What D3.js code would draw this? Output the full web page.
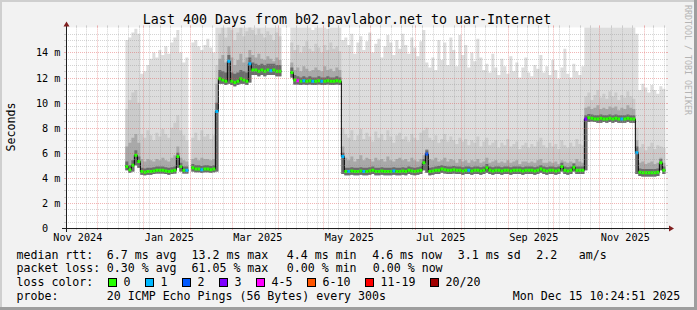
<!DOCTYPE html>
<html>
<head>
<meta charset="utf-8">
<script src="https://cdn.jsdelivr.net/npm/d3@7"></script>
<style>
  body { margin: 0; background: #fff; }
  svg { display: block; font-family: "DejaVu Sans Mono", monospace; }
  text { white-space: pre; }
</style>
</head>
<body>
<svg id="chart"></svg>
<script>
// ---- data ----
const chartTitle = "Last 400 Days from b02.pavlabor.net to uar-Internet";
const yTitle = "Seconds";
const rangeStart = new Date(2024, 10, 10, 10, 24, 51);
const rangeEnd = new Date(2025, 11, 15, 10, 24, 51);
const firstSample = new Date(2024, 11, 20);
const sampleDays = 2;
const yTicks = [0, 2, 4, 6, 8, 10, 12, 14];
const yMax = 16;

// median rtt (ms), one value per 2 days
const median = [
  4.9,4.65,5.0,5.8,5.3,4.5,4.45,4.5,4.5,4.55,
  4.6,4.6,4.6,4.55,4.5,4.55,4.6,5.7,4.9,4.6,
  4.6,null,4.8,4.7,4.7,4.65,4.7,4.7,4.65,4.7,
  9.3,11.9,11.8,11.7,13.3,11.7,11.6,11.7,11.9,11.8,
  11.7,13.1,12.6,12.6,12.5,12.6,12.5,12.6,12.55,12.6,
  12.5,12.5,null,null,null,12.4,11.8,11.75,11.7,11.75,
  11.7,11.75,11.7,11.7,11.75,11.7,11.7,11.75,11.7,11.7,
  11.75,11.7,5.7,4.5,4.5,4.55,4.5,4.5,4.55,4.5,
  4.5,4.55,4.6,4.5,4.5,4.55,4.5,4.5,4.5,4.55,
  4.5,4.5,4.55,4.5,4.6,4.55,4.5,4.55,4.6,5.2,
  5.9,4.5,4.55,4.6,4.6,4.7,4.65,4.6,4.6,4.65,
  4.6,4.6,4.55,4.6,4.6,4.55,4.6,4.6,4.55,4.6,
  4.8,4.6,4.55,4.6,4.6,4.55,4.6,4.6,4.55,4.6,
  4.6,4.6,4.55,4.6,4.6,4.6,4.55,4.6,4.7,4.6,
  4.55,4.6,4.6,4.55,4.6,4.9,4.6,4.55,4.6,4.85,
  4.6,4.6,4.6,8.7,8.8,8.75,8.7,8.7,8.75,8.7,
  8.7,8.75,8.7,8.75,8.7,8.7,8.7,8.75,8.7,8.7,
  6.0,4.45,4.4,4.4,4.4,4.4,4.4,4.45,5.2,4.6
];
// fastest ping (bottom of the smoke)
const pingMin = [
  4.6,4.4,4.5,5.0,4.8,4.25,4.2,4.25,4.25,4.3,
  4.35,4.35,4.35,4.3,4.25,4.3,4.35,4.8,4.5,4.35,
  4.35,null,4.5,4.45,4.45,4.4,4.45,4.45,4.4,4.45,
  4.5,11.5,11.5,11.4,11.5,11.4,11.3,11.4,11.5,11.5,
  11.4,11.6,12.2,12.2,12.1,12.2,12.1,12.2,12.2,12.2,
  12.1,12.1,null,null,null,12.0,11.45,11.45,11.4,11.45,
  11.4,11.45,11.4,11.4,11.45,11.4,11.4,11.45,11.4,11.4,
  11.45,11.4,4.3,4.2,4.2,4.25,4.2,4.2,4.25,4.2,
  4.2,4.25,4.3,4.2,4.2,4.25,4.2,4.2,4.2,4.25,
  4.2,4.2,4.25,4.2,4.3,4.25,4.2,4.25,4.3,4.6,
  4.4,4.2,4.25,4.3,4.3,4.4,4.35,4.3,4.3,4.35,
  4.3,4.3,4.25,4.3,4.3,4.25,4.3,4.3,4.25,4.3,
  4.4,4.3,4.25,4.3,4.3,4.25,4.3,4.3,4.25,4.3,
  4.3,4.3,4.25,4.3,4.3,4.3,4.25,4.3,4.4,4.3,
  4.25,4.3,4.3,4.25,4.3,4.5,4.3,4.25,4.3,4.5,
  4.3,4.3,4.3,4.6,8.45,8.5,8.45,8.4,8.4,8.45,
  8.4,8.45,8.4,8.45,8.4,8.4,8.4,8.45,8.4,8.4,
  4.3,4.15,4.1,4.1,4.1,4.1,4.1,4.15,4.6,4.3
];
// slowest ping (top of the smoke)
const pingMax = [
  15.0,15.2,15.6,15.9,15.5,12.3,12.5,13.0,13.5,14.0,
  13.6,14.2,13.8,14.5,13.9,14.8,15.2,15.8,14.0,13.2,
  13.6,null,14.8,15.0,14.5,14.2,14.6,15.1,14.4,14.0,
  16.5,16.5,16.5,16.5,16.5,16.5,16.5,16.5,16.5,16.5,
  16.5,16.5,16.5,16.5,16.5,16.5,16.5,16.5,16.5,16.5,
  16.5,16.5,null,null,null,16.5,16.5,16.5,16.5,16.5,
  16.5,16.5,15.8,16.5,16.5,16.5,16.5,15.9,16.5,16.5,
  16.5,16.5,15.0,15.2,14.6,15.5,13.9,14.8,15.3,14.2,
  14.9,15.6,14.0,14.7,15.1,13.6,14.5,15.4,14.8,13.8,
  15.0,14.3,15.5,14.6,13.9,15.2,14.4,13.7,14.9,15.8,
  13.2,12.8,13.6,12.6,15.0,13.4,14.8,13.0,15.2,14.2,
  12.9,15.4,13.8,14.6,12.8,14.0,13.3,15.1,13.6,12.6,
  13.1,12.4,13.9,12.8,12.2,13.5,12.9,12.3,13.7,12.5,
  13.2,12.0,12.8,13.6,12.4,12.1,13.0,12.7,13.8,12.4,
  12.9,12.2,13.4,12.6,11.9,12.8,14.3,12.3,12.0,13.1,
  12.5,12.2,12.9,16.5,16.5,16.5,16.5,16.5,16.5,16.5,
  16.5,16.5,16.5,16.5,16.5,16.5,16.5,16.5,16.5,16.5,
  15.5,11.0,11.5,11.2,10.8,11.4,11.0,10.7,11.3,11.1
];
// upper edges of the inner (darker) smoke bands
const smokeHigh = [
  9.5,10.2,10.8,11.0,10.0,7.5,7.2,7.8,7.4,7.0,
  7.6,7.3,7.9,7.5,7.2,8.0,8.4,9.0,7.8,7.4,
  7.0,null,7.2,7.6,7.0,7.8,7.3,7.5,7.1,7.4,
  13.0,15.5,16.0,15.2,16.2,15.8,15.0,15.6,16.0,15.3,
  15.7,16.2,15.8,15.4,15.9,15.5,15.2,15.7,15.4,15.0,
  15.6,15.3,null,null,null,14.8,14.2,14.6,14.0,14.5,
  14.9,14.3,14.1,14.7,14.4,14.0,14.6,14.2,14.8,14.3,
  14.5,14.1,8.0,7.5,7.2,7.8,7.0,7.4,7.9,7.1,
  7.6,7.3,6.9,7.7,7.2,7.5,7.0,7.8,7.3,6.8,
  7.4,7.6,7.1,7.3,6.9,7.5,7.2,7.0,7.6,7.8,
  8.0,7.2,7.0,7.4,6.8,7.1,7.5,6.9,7.3,7.0,
  6.7,7.2,6.9,7.1,6.6,7.0,6.8,7.3,6.5,6.9,
  7.2,6.6,6.8,7.0,6.4,6.8,6.6,7.1,6.5,6.7,
  6.9,6.3,6.6,6.8,6.4,6.7,6.5,6.9,7.2,6.6,
  6.4,6.8,6.5,6.7,6.3,7.0,6.6,6.4,6.8,6.5,
  7.1,6.7,6.6,10.5,10.8,10.2,10.6,11.0,10.4,10.7,
  10.3,10.9,10.5,10.8,10.2,10.6,10.4,10.9,10.5,10.3,
  8.0,6.4,6.7,6.2,6.5,6.8,6.3,6.6,6.5,6.4
];
const smokeMid = [
  6.5,6.8,7.2,7.5,6.8,5.5,5.3,5.5,5.4,5.3,
  5.5,5.4,5.6,5.4,5.3,5.6,5.8,6.5,5.6,5.4,
  5.3,null,5.5,5.6,5.4,5.6,5.5,5.5,5.4,5.5,
  11.5,13.5,13.8,13.2,14.5,13.6,13.0,13.4,13.9,13.2,
  13.6,14.2,13.8,13.6,13.9,13.5,13.4,13.7,13.5,13.3,
  13.6,13.4,null,null,null,13.2,12.6,12.8,12.5,12.9,
  12.7,12.5,12.6,12.8,12.6,12.5,12.9,12.6,12.7,12.5,
  12.8,12.6,6.5,5.6,5.4,5.7,5.3,5.5,5.8,5.4,
  5.6,5.5,5.3,5.6,5.4,5.5,5.3,5.7,5.4,5.3,
  5.5,5.6,5.4,5.5,5.3,5.6,5.4,5.3,5.5,5.8,
  6.3,5.5,5.4,5.6,5.3,5.4,5.6,5.3,5.5,5.4,
  5.2,5.5,5.3,5.4,5.2,5.4,5.3,5.5,5.2,5.3,
  5.6,5.2,5.3,5.4,5.2,5.3,5.2,5.4,5.2,5.3,
  5.4,5.1,5.3,5.3,5.2,5.3,5.2,5.4,5.5,5.2,
  5.2,5.3,5.2,5.3,5.1,5.4,5.3,5.2,5.3,5.2,
  5.5,5.3,5.2,9.6,9.7,9.5,9.6,9.8,9.5,9.6,
  9.5,9.7,9.6,9.7,9.4,9.6,9.5,9.8,9.6,9.5,
  7.0,5.2,5.3,5.1,5.2,5.3,5.1,5.2,5.6,5.2
];
const smokeLow = [
  5.3,5.0,5.4,6.2,5.7,4.8,4.75,4.8,4.8,4.85,
  4.9,4.9,4.9,4.85,4.8,4.85,4.9,6.0,5.2,4.9,
  4.9,null,5.1,5.0,5.0,4.95,5.0,5.0,4.95,5.0,
  10.0,12.6,12.5,12.4,13.8,12.4,12.3,12.4,12.6,12.5,
  12.4,13.6,13.2,13.1,13.0,13.1,13.0,13.1,13.1,13.1,
  13.0,13.0,null,null,null,12.8,12.2,12.1,12.0,12.1,
  12.0,12.1,12.0,12.0,12.1,12.0,12.0,12.1,12.0,12.0,
  12.1,12.0,6.0,4.8,4.8,4.85,4.8,4.8,4.85,4.8,
  4.8,4.85,4.9,4.8,4.8,4.85,4.8,4.8,4.8,4.85,
  4.8,4.8,4.85,4.8,4.9,4.85,4.8,4.85,4.9,5.5,
  6.2,4.8,4.85,4.9,4.95,5.0,4.95,4.9,4.9,4.95,
  4.9,4.9,4.85,4.9,4.9,4.85,4.9,4.9,4.85,4.9,
  5.1,4.9,4.85,4.9,4.9,4.85,4.9,4.9,4.85,4.9,
  4.9,4.9,4.85,4.9,4.9,4.9,4.85,4.9,5.0,4.9,
  4.85,4.9,4.9,4.85,4.9,5.2,4.9,4.85,4.9,5.15,
  4.9,4.9,4.9,9.0,9.1,9.05,9.0,9.0,9.05,9.0,
  9.0,9.05,9.0,9.05,9.0,9.0,9.0,9.05,9.0,9.0,
  6.5,4.75,4.7,4.7,4.7,4.7,4.7,4.75,5.5,4.9
];
// [sample index, lost pings out of 20]
const lossEvents = [[20,1],[25,1],[30,1],[34,1],[41,1],[48,1],[57,4],[59,1],[62,1],[65,1],
  [72,1],[74,1],[79,1],[89,1],[100,2],[114,1],[153,3],[165,1],[170,1]];

const lossLabels = ["0", "1", "2", "3", "4-5", "6-10", "11-19", "20/20"];
const lossColors = ["#26ff00", "#00b8ff", "#0059ff", "#7e00ff", "#ff00ff", "#ff5500", "#ff0000", "#a10000"];
const lossUpper = [0, 1, 2, 3, 5, 10, 19, 20];
const rttStats = ["6.7 ms avg", "13.2 ms max", "4.4 ms min", "4.6 ms now", "3.1 ms sd", "2.2", "am/s"];
const lossStats = ["0.30 % avg", "61.05 % max", "0.00 % min", "0.00 % now"];
const probeText = "20 ICMP Echo Pings (56 Bytes) every 300s";
const stampText = "Mon Dec 15 10:24:51 2025";

// ---- layout ----
const W = 697, H = 310;
const plot = { left: 66, right: 666, top: 27.4, bottom: 228 };
const fontAxis = 10.2, fontLegend = 11.6, fontTitle = 13.3;

const svg = d3.select("#chart").attr("width", W).attr("height", H);

svg.append("rect").attr("width", W).attr("height", H).attr("fill", "#f2f2f2");
svg.append("rect").attr("width", W).attr("height", 2).attr("fill", "#cfcfcf");
svg.append("rect").attr("width", 2).attr("height", H).attr("fill", "#cfcfcf");
svg.append("rect").attr("y", H - 3).attr("width", W).attr("height", 3).attr("fill", "#9e9e9e");
svg.append("rect").attr("x", W - 3).attr("width", 3).attr("height", H).attr("fill", "#9e9e9e");

const x = d3.scaleTime().domain([rangeStart, rangeEnd]).range([plot.left, plot.right]);
const y = d3.scaleLinear().domain([0, yMax]).range([plot.bottom, plot.top]);

svg.append("rect")
  .attr("x", plot.left).attr("y", plot.top)
  .attr("width", plot.right - plot.left).attr("height", plot.bottom - plot.top)
  .attr("fill", "#ffffff");

svg.append("clipPath").attr("id", "clip")
  .append("rect")
  .attr("x", plot.left).attr("y", plot.top)
  .attr("width", plot.right - plot.left).attr("height", plot.bottom - plot.top);

// samples cover [t0, t1); each becomes two points so the shapes step like rrd columns
const lossAt = new Map(lossEvents);
const samples = median.map((m, i) => ({
  t0: d3.timeDay.offset(firstSample, i * sampleDays),
  t1: d3.timeDay.offset(firstSample, (i + 1) * sampleDays),
  median: m,
  min: pingMin[i], max: pingMax[i],
  high: smokeHigh[i], mid: smokeMid[i], low: smokeLow[i],
  loss: lossAt.get(i) || 0
}));
const stepPts = samples.flatMap(s => [{ ...s, t: s.t0 }, { ...s, t: s.t1 }]);

const plotG = svg.append("g").attr("clip-path", "url(#clip)");

const bands = [["max", "#dddddd"], ["high", "#cbcbcb"], ["mid", "#a9a9a9"], ["low", "#6c6c6c"]];
bands.forEach(([key, color]) => {
  const area = d3.area()
    .defined(d => d[key] != null)
    .x(d => x(d.t))
    .y0(d => y(d.min))
    .y1(d => y(d[key]));
  plotG.append("path").attr("d", area(stepPts)).attr("fill", color);
});

// ---- grid ----
const gridG = svg.append("g");
const minorColor = "rgba(143,143,143,0.38)", majorColor = "rgba(222,79,79,0.42)";

const minorY = d3.range(0.5, yMax, 0.5).filter(v => v % 2 !== 0);
const addHLines = (vals, color) => {
  gridG.selectAll(null).data(vals).join("line")
    .attr("x1", plot.left).attr("x2", plot.right)
    .attr("y1", d => Math.round(y(d)) + 0.5).attr("y2", d => Math.round(y(d)) + 0.5)
    .attr("stroke", color).attr("stroke-dasharray", "1,1");
  gridG.selectAll(null).data(vals).join("path")
    .attr("d", d => {
      const yy = Math.round(y(d)) + 0.5;
      return `M${plot.left - 2},${yy}H${plot.left}M${plot.right},${yy}H${plot.right + 2}`;
    })
    .attr("stroke", color);
};
addHLines(minorY, minorColor);
addHLines(yTicks.filter(v => v > 0), majorColor);

const monthStarts = d3.timeMonth.range(rangeStart, rangeEnd);
const weekStarts = d3.timeSunday.range(rangeStart, rangeEnd)
  .filter(d => !monthStarts.some(m => Math.abs(x(m) - x(d)) < 2));
const addVLines = (vals, color) => {
  gridG.selectAll(null).data(vals).join("line")
    .attr("x1", d => Math.round(x(d)) + 0.5).attr("x2", d => Math.round(x(d)) + 0.5)
    .attr("y1", plot.top).attr("y2", plot.bottom)
    .attr("stroke", color).attr("stroke-dasharray", "1,1");
  gridG.selectAll(null).data(vals).join("path")
    .attr("d", d => {
      const xx = Math.round(x(d)) + 0.5;
      return `M${xx},${plot.bottom}V${plot.bottom + 2}M${xx},${plot.top - 2}V${plot.top}`;
    })
    .attr("stroke", color);
};
addVLines(weekStarts, minorColor);
addVLines(monthStarts, majorColor);

// ---- median line ----
const medLine = d3.line()
  .defined(d => d.median != null)
  .x(d => x(d.t))
  .y(d => y(d.median));
plotG.append("path").attr("d", medLine(stepPts))
  .attr("fill", "none").attr("stroke", "#000").attr("stroke-width", 1);

const bucket = n => lossUpper.findIndex(u => n <= u);
plotG.selectAll("line.med").data(samples.filter(s => s.median != null)).join("line")
  .attr("class", "med")
  .attr("x1", d => x(d.t0)).attr("x2", d => x(d.t1))
  .attr("y1", d => y(d.median)).attr("y2", d => y(d.median))
  .attr("stroke", d => lossColors[bucket(d.loss)])
  .attr("stroke-width", 3);

// ---- axes ----
const axisColor = "#1f1f1f", arrowColor = "#801f1f";
const x0 = plot.left + 0.5, y0 = plot.bottom + 0.5;
svg.append("path").attr("d", `M${plot.left - 4},${y0}H${plot.right + 4}`).attr("stroke", axisColor);
svg.append("path").attr("d", `M${x0},${plot.bottom + 4}V${plot.top - 4}`).attr("stroke", axisColor);
svg.append("path")
  .attr("d", `M${plot.right + 3},${y0 - 3}L${plot.right + 8},${y0}L${plot.right + 3},${y0 + 3}Z`)
  .attr("fill", arrowColor);
svg.append("path")
  .attr("d", `M${x0 - 3},${plot.top - 1}L${x0},${plot.top - 6}L${x0 + 3},${plot.top - 1}Z`)
  .attr("fill", arrowColor);

// x labels sit half a month after the month they name
const fmtMonth = d3.timeFormat("%b %Y");
const labelMonths = d3.timeMonth.every(2).range(d3.timeMonth.floor(rangeStart), rangeEnd);
const xAxis = d3.axisBottom(x)
  .tickValues(labelMonths.map(m => d3.timeDay.offset(m, 17)))
  .tickFormat(d => fmtMonth(d3.timeMonth.floor(d)))
  .tickSize(0).tickPadding(0);
const gx = svg.append("g").attr("transform", "translate(0,240.8)").call(xAxis);
gx.select(".domain").remove();
gx.selectAll("text").attr("y", 0).attr("dy", 0)
  .attr("font-family", "DejaVu Sans Mono").attr("font-size", fontAxis).attr("fill", "#000");

const yAxis = d3.axisLeft(y)
  .tickValues(yTicks)
  .tickFormat(v => v === 0 ? "0  " : `${v} m`)
  .tickSize(0).tickPadding(0);
const gy = svg.append("g").attr("transform", "translate(60.5,0)").call(yAxis);
gy.select(".domain").remove();
gy.selectAll("text").attr("dy", "0.34em")
  .attr("font-family", "DejaVu Sans Mono").attr("font-size", fontAxis).attr("fill", "#000");

svg.append("text")
  .attr("transform", "translate(15,127) rotate(-90)")
  .attr("text-anchor", "middle")
  .attr("font-size", fontLegend)
  .text(yTitle);

svg.append("text")
  .attr("x", 347).attr("y", 23.8)
  .attr("text-anchor", "middle")
  .attr("font-size", fontTitle)
  .text(chartTitle);

svg.append("text")
  .attr("transform", "translate(685,5) rotate(90)")
  .attr("font-size", 8.3)
  .attr("fill", "#b4b4b4")
  .text("RRDTOOL / TOBI OETIKER");

// ---- legend ----
const rows = [258.5, 272.4, 286.4, 300];
const legendText = (tx, ty, s) => svg.append("text")
  .attr("x", tx).attr("y", ty).attr("font-size", fontLegend).attr("fill", "#000").text(s);

legendText(16.5, rows[0], "median rtt:");
[106.8, 191.5, 286.8, 372.2, 457.8, 536.2, 578.8].forEach((px, i) => legendText(px, rows[0], rttStats[i]));

legendText(16.5, rows[1], "packet loss:");
[106.8, 191.5, 286.8, 372.8].forEach((px, i) => legendText(px, rows[1], lossStats[i]));

legendText(16.5, rows[2], "loss color:");
const boxX = [108.5, 145.5, 182.5, 219.5, 256.5, 307.5, 365.5, 430.5];
lossLabels.forEach((lab, i) => {
  svg.append("rect")
    .attr("x", boxX[i]).attr("y", 278.5).attr("width", 8).attr("height", 8)
    .attr("fill", lossColors[i]).attr("stroke", "#000").attr("stroke-width", 1);
  legendText(boxX[i] + 15, rows[2], lab);
});

legendText(16.5, rows[3], "probe:");
legendText(106.8, rows[3], probeText);
legendText(512.8, rows[3], stampText);
</script>
</body>
</html>
